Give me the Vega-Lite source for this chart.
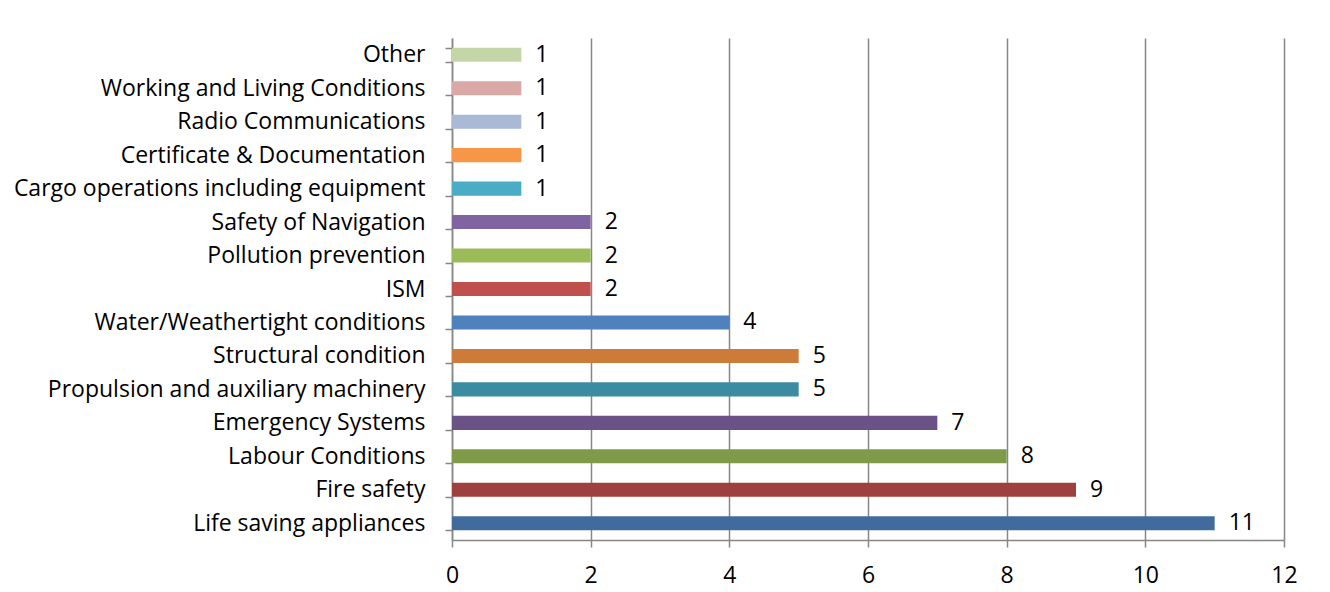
{
  "$schema": "https://vega.github.io/schema/vega-lite/v6.json",
  "autosize": {"type": "none"},
  "width": 832,
  "height": 502,
  "padding": {"left": 452, "top": 38, "right": 46, "bottom": 52},
  "background": "white",
  "config": {"view": {"stroke": null}, "font": "Open Sans"},
  "data": {"values": [
    {"category": "Other", "count": 1},
    {"category": "Working and Living Conditions", "count": 1},
    {"category": "Radio Communications", "count": 1},
    {"category": "Certificate & Documentation", "count": 1},
    {"category": "Cargo operations including equipment", "count": 1},
    {"category": "Safety of Navigation", "count": 2},
    {"category": "Pollution prevention", "count": 2},
    {"category": "ISM", "count": 2},
    {"category": "Water/Weathertight conditions", "count": 4},
    {"category": "Structural condition", "count": 5},
    {"category": "Propulsion and auxiliary machinery", "count": 5},
    {"category": "Emergency Systems", "count": 7},
    {"category": "Labour Conditions", "count": 8},
    {"category": "Fire safety", "count": 9},
    {"category": "Life saving appliances", "count": 11}
  ]},
  "encoding": {
    "y": {
      "field": "category", "type": "nominal",
      "sort": ["Other", "Working and Living Conditions", "Radio Communications", "Certificate & Documentation", "Cargo operations including equipment", "Safety of Navigation", "Pollution prevention", "ISM", "Water/Weathertight conditions", "Structural condition", "Propulsion and auxiliary machinery", "Emergency Systems", "Labour Conditions", "Fire safety", "Life saving appliances"],
      "scale": {"paddingInner": 0.58, "paddingOuter": 0.29},
      "axis": {
        "title": null, "tickBand": "extent", "tickSize": 7, "tickColor": "#868686", "tickWidth": 1.5,
        "domainColor": "#868686", "domainWidth": 1.5, "labelPadding": 20,
        "labelFontSize": 23, "labelColor": "#000000", "labelFont": "Open Sans", "grid": false, "labelLimit": 0
      }
    },
    "x": {
      "field": "count", "type": "quantitative",
      "scale": {"domain": [0, 12], "nice": false},
      "axis": {
        "title": null, "values": [0, 2, 4, 6, 8, 10, 12], "tickSize": 7, "tickColor": "#868686", "tickWidth": 1.5,
        "domainColor": "#868686", "domainWidth": 1.5, "grid": true, "gridColor": "#868686", "gridWidth": 1.5,
        "labelFlush": false, "labelPadding": 17, "labelFontSize": 23, "labelColor": "#000000", "labelFont": "Open Sans"
      }
    }
  },
  "layer": [
    {
      "mark": {"type": "bar"},
      "encoding": {
        "color": {
          "field": "category", "type": "nominal", "legend": null,
          "scale": {
            "domain": ["Other", "Working and Living Conditions", "Radio Communications", "Certificate & Documentation", "Cargo operations including equipment", "Safety of Navigation", "Pollution prevention", "ISM", "Water/Weathertight conditions", "Structural condition", "Propulsion and auxiliary machinery", "Emergency Systems", "Labour Conditions", "Fire safety", "Life saving appliances"],
            "range": ["#C4D6A8", "#D9A8A7", "#A9B9D6", "#F79646", "#4BACC6", "#8064A2", "#9BBB59", "#C0504D", "#4F81BD", "#CC7B38", "#3B8CA2", "#6A5186", "#7F9A48", "#9E413E", "#416B9C"]
          }
        }
      }
    },
    {
      "mark": {"type": "text", "align": "left", "baseline": "middle", "dx": 14, "fontSize": 23, "font": "Open Sans", "color": "#000000"},
      "encoding": {"text": {"field": "count", "type": "quantitative"}}
    }
  ]
}
